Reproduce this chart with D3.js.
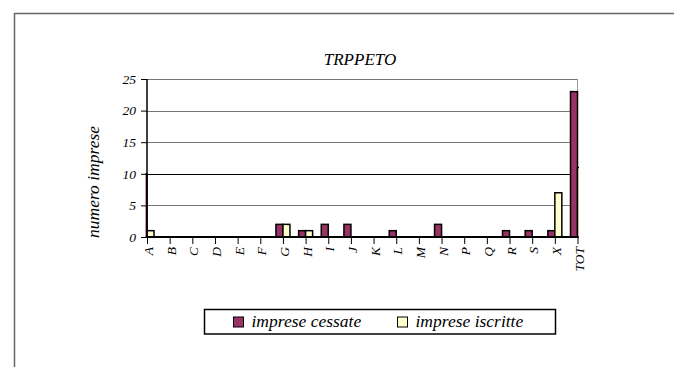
<!DOCTYPE html>
<html><head><meta charset="utf-8">
<script src="https://cdn.jsdelivr.net/npm/d3@7"></script>
<style>body{margin:0;background:#fff}svg{display:block}</style>
</head><body><svg id="c" width="674" height="367"></svg>
<script>
const categories = ["A","B","C","D","E","F","G","H","I","J","K","L","M","N","P","Q","R","S","X","TOT"];
const cessate  = [10,null,0,null,null,0,2,1,2,2,0,1,0,2,0,0,1,1,1,23];
const iscritte = [1,null,0,null,null,0,2,1,0,0,0,0,0,0,0,0,0,0,7,11];
const yTicks = [0,5,10,15,20,25];
const seriesNames = ["imprese cessate","imprese iscritte"];
const colors = ["#993366","#FFFFCC"];

const FONT = "'Liberation Serif'";
const svg = d3.select("#c");
svg.append("path").attr("d","M14.5,367 V13.5 H674").attr("fill","none").attr("stroke","#666").attr("stroke-width",1.5);

const L=147, R=577.5, T=79, B=237;
const x = d3.scalePoint().domain(categories).range([L,R]);
const y = d3.scaleLinear().domain([0,25]).range([B,T]);
const bw = 7;

svg.append("path").attr("d",`M${L},${T+0.5} H${R} V${B}`).attr("fill","none").attr("stroke","#999").attr("stroke-width",1);
svg.append("g").selectAll("line").data(yTicks.filter(d=>d>0)).join("line")
  .attr("x1",L).attr("x2",R).attr("y1",d=>Math.round(y(d))+0.5).attr("y2",d=>Math.round(y(d))+0.5)
  .attr("stroke",d=>d===10?"#000":"#777").attr("stroke-width",1);

svg.append("defs").append("clipPath").attr("id","clip").append("rect").attr("x",L-1.5).attr("y",T-2).attr("width",R-L+3).attr("height",B-T+4);
const bars = svg.append("g").attr("clip-path","url(#clip)");
[cessate,iscritte].forEach((vals,si)=>{
  bars.append("g").selectAll("rect").data(categories.map((c,i)=>({c,v:vals[i]})).filter(d=>d.v!==null)).join("rect")
    .attr("x",d=>x(d.c)+(si===0?-bw:0)).attr("width",bw)
    .attr("y",d=>y(d.v)).attr("height",d=>B-y(d.v))
    .attr("fill",colors[si]).attr("stroke","#000").attr("stroke-width",1.5);
});

const styleText = sel => sel.style("font-family",FONT).style("font-style","italic").attr("fill","#000");

const ya = svg.append("g").attr("transform",`translate(${L},0)`).call(d3.axisLeft(y).tickValues(yTicks).tickSize(6).tickPadding(5));
ya.select(".domain").attr("stroke","#000").attr("stroke-width",1.5).attr("d",`M0,${T}V${B}`);
ya.selectAll("line").attr("stroke","#000");
styleText(ya.selectAll("text")).style("font-size","13.5px");

const xa = svg.append("g").attr("transform",`translate(0,${B})`).call(d3.axisBottom(x).tickSize(7).tickSizeOuter(0));
xa.select(".domain").attr("stroke","#000").attr("stroke-width",2).attr("d",`M${L},0H${R}`);
xa.selectAll("line").attr("stroke","#000");
styleText(xa.selectAll("text")).style("font-size","13.5px")
  .attr("transform","rotate(-90)").attr("text-anchor","end").attr("x",-10).attr("y",0).attr("dy","0.42em");

styleText(svg.append("text").attr("x",360).attr("y",65).attr("text-anchor","middle")).style("font-size","17px").text("TRPPETO");
styleText(svg.append("text").attr("transform","translate(99,182) rotate(-90)").attr("text-anchor","middle")).style("font-size","17.5px").text("numero imprese");

const lg = svg.append("g");
lg.append("rect").attr("x",204.5).attr("y",309.5).attr("width",351).attr("height",24.5).attr("fill","#fff").attr("stroke","#000").attr("stroke-width",1.5);
const lx=[233.5,397.5];
seriesNames.forEach((n,i)=>{
  lg.append("rect").attr("x",lx[i]).attr("y",317).attr("width",10).attr("height",10).attr("fill",colors[i]).attr("stroke","#000").attr("stroke-width",1);
  styleText(lg.append("text").attr("x",lx[i]+18).attr("y",326.5)).style("font-size","17.5px").text(n);
});
</script></body></html>
